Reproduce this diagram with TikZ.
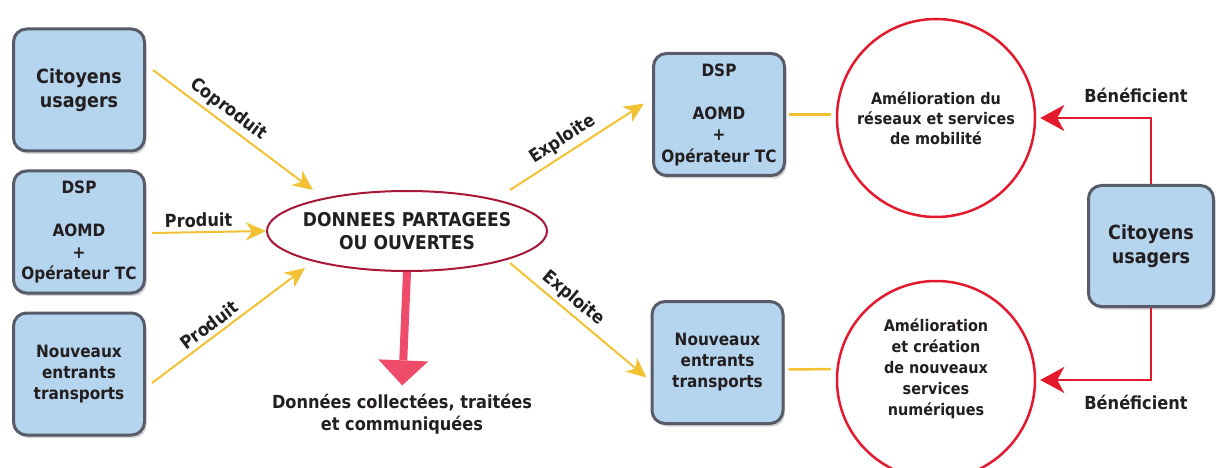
\documentclass[tikz,border=0pt]{standalone}
\usepackage{fontspec}
\setmainfont{DejaVu Sans Condensed}
\usetikzlibrary{arrows.meta,calc,shapes.geometric,shadows}
\definecolor{BoxClr}{RGB}{181,212,238}
\definecolor{EdgeClr}{RGB}{88,92,104}
\definecolor{TextClr}{RGB}{35,31,32}
\definecolor{YellowClr}{RGB}{242,194,52}
\definecolor{RedClr}{RGB}{228,25,45}
\definecolor{OvalClr}{RGB}{168,22,56}
\definecolor{PinkClr}{RGB}{238,76,106}

\begin{document}
\begin{tikzpicture}[x=1pt,y=-1pt,
  every node/.style={text=TextClr,align=center,font=\fontsize{18}{22}\selectfont\bfseries},
  box/.style={draw=EdgeClr,line width=3pt,fill=BoxClr,rounded corners=13pt,
    minimum width=131pt,minimum height=122pt,inner sep=0pt,
    font=\fontsize{17}{21.5}\selectfont\bfseries,
    drop shadow={shadow xshift=2pt,shadow yshift=-3pt,opacity=.35}},
  bigfont/.style={font=\fontsize{19.5}{24}\selectfont\bfseries},
  oval/.style={ellipse,draw=OvalClr,line width=2pt,minimum width=280pt,minimum height=80pt,
    inner xsep=-20pt,inner ysep=0pt,font=\fontsize{19}{23}\selectfont\bfseries},
  ring/.style={circle,draw=RedClr,line width=2.5pt,minimum size=198pt,inner sep=0pt,
    font=\fontsize{16}{20}\selectfont\bfseries},
  lbl/.style={sloped,above=3pt,inner sep=1pt},
  yline/.style={YellowClr,line width=2pt,-{Stealth[length=20pt,width=18pt,inset=6pt]}},
  yplain/.style={YellowClr,line width=2.5pt},
  rline/.style={RedClr,line width=2pt,shorten >=4pt,-{Stealth[length=24pt,width=26pt,inset=7pt]}},
  pline/.style={PinkClr,line width=8pt,shorten >=5pt,-{Triangle[length=25pt,width=50pt,line width=0pt]}}]

\useasboundingbox (0,0) rectangle (1216,468);

% left column
\node[box,bigfont] (cit1) at (79,90) {Citoyens\\usagers};
\node[box] (dsp1) at (79,232) {DSP\\[21.5pt]AOMD\\+\\Opérateur TC};
\node[box,font=\fontsize{17}{21}\selectfont\bfseries] (nouv1) at (79,374) {Nouveaux\\entrants\\transports};

\node[oval] (donnees) at (407,231) {DONNEES PARTAGEES\\OU OUVERTES};
\node[font=\fontsize{18}{22}\selectfont\bfseries] (collect) at (402,414) {Données collectées, traitées\\et communiquées};

% right part
\node[box] (dsp2) at (719,114.5) {DSP\\[21.5pt]AOMD\\+\\Opérateur TC};
\node[box,font=\fontsize{17}{21}\selectfont\bfseries] (nouv2) at (717.5,362.5) {Nouveaux\\entrants\\transports};

\node[ring] (amelio1) at (936,118) {Amélioration du\\réseaux et services\\de mobilité};
\node[ring] (amelio2) at (936,380) {};
\node[font=\fontsize{16}{21}\selectfont\bfseries] (amelio2txt) at (936,369) {Amélioration\\et création\\de nouveaux\\services\\numériques};

\node[box,bigfont,minimum width=125pt,minimum height=121pt] (cit2) at (1151,246) {Citoyens\\usagers};
\node (benef1) at (1136,95) {Bénéficient};
\node (benef2) at (1136,402) {Bénéficient};

% connectors
\draw[yline] ($(cit1.east)+(7,-20)$) -- node[lbl,pos=.42]{Coproduit} ($(donnees)+(-94,-41)$);
\draw[yline] ($(dsp1.east)+(6,1)$) -- node[lbl,pos=.41]{Produit} (donnees.west);
\draw[yline] ($(nouv1.east)+(6,9)$) -- node[lbl,pos=.42]{Produit} ($(donnees)+(-102,37)$);
\draw[yline] ($(donnees)+(103,-41)$) -- node[lbl,pos=.45]{Exploite} ($(dsp2.west)+(-8,-11)$);
\draw[yline] ($(donnees)+(103,32)$) -- node[lbl,pos=.4]{Exploite} ($(nouv2.west)+(-4,15)$);
\draw[yplain,shorten >=5pt] ($(dsp2.east)+(3,0)$) -- (dsp2.east -| amelio1.west);
\draw[yplain,shorten >=5pt] ($(nouv2.east)+(4,7)$) -- ($(amelio2.west)+(0,-11)$);

\draw[rline] (cit2.north) |- (amelio1.east);
\draw[rline] (cit2.south) |- (amelio2.east);

\draw[pline] (donnees.south) -- (collect.north);

\end{tikzpicture}
\end{document}
